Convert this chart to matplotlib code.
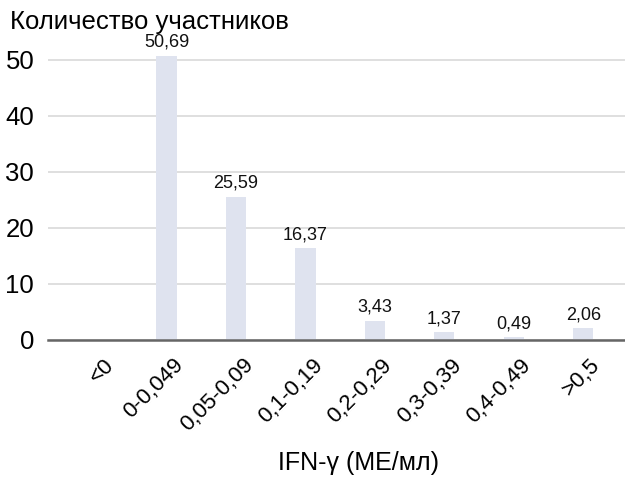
import matplotlib.pyplot as plt
import numpy as np

plt.rcParams['font.family'] = ['Liberation Sans', 'DejaVu Sans']

# Распределение участников по уровню IFN-γ
categories = ['<0', '0-0,049', '0,05-0,09', '0,1-0,19', '0,2-0,29',
              '0,3-0,39', '0,4-0,49', '>0,5']
values = [0, 50.69, 25.59, 16.37, 3.43, 1.37, 0.49, 2.06]
yticks = [0, 10, 20, 30, 40, 50]

fig = plt.figure(figsize=(6.25, 4.78), dpi=100)
ax = fig.add_axes([0.077, 0.289, 0.923, 0.621])

x = np.arange(len(categories))
bar_color = '#dfe3ef'
ax.bar(x, values, width=0.29, color=bar_color, zorder=2)

for xi, v in zip(x, values):
    if v > 0:
        ax.text(xi, v + 0.9, f'{v:.2f}'.replace('.', ','), ha='center',
                va='bottom', fontsize=13, color='#111111', zorder=3)

ax.set_xlim(-0.705, 7.6)
ax.set_ylim(0, 53)
ax.set_yticks(yticks)
ax.set_yticklabels([str(t) for t in yticks], fontsize=18.5)
ax.grid(axis='y', color='#d9d9d9', linewidth=1.2, zorder=0)
ax.tick_params(axis='y', length=0, pad=10)

# подписи категорий под углом 45°, слегка смещены вправо
ax.set_xticks(x + 0.2)
ax.set_xticklabels(categories, rotation=45, ha='right', va='center',
                   rotation_mode='anchor', fontsize=16)
ax.tick_params(axis='x', length=0, pad=16)

for side in ['top', 'right', 'left']:
    ax.spines[side].set_visible(False)
ax.spines['bottom'].set_color('#666666')
ax.spines['bottom'].set_linewidth(1.8)
ax.spines['bottom'].set_zorder(4)

fig.text(358 / 625, 1 - 463 / 478, 'IFN-γ (МЕ/мл)', fontsize=18,
         ha='center', va='center')
fig.text(0.016, 0.954, 'Количество участников', fontsize=18.5,
         ha='left', va='center')

plt.savefig('out.png', dpi=100)
